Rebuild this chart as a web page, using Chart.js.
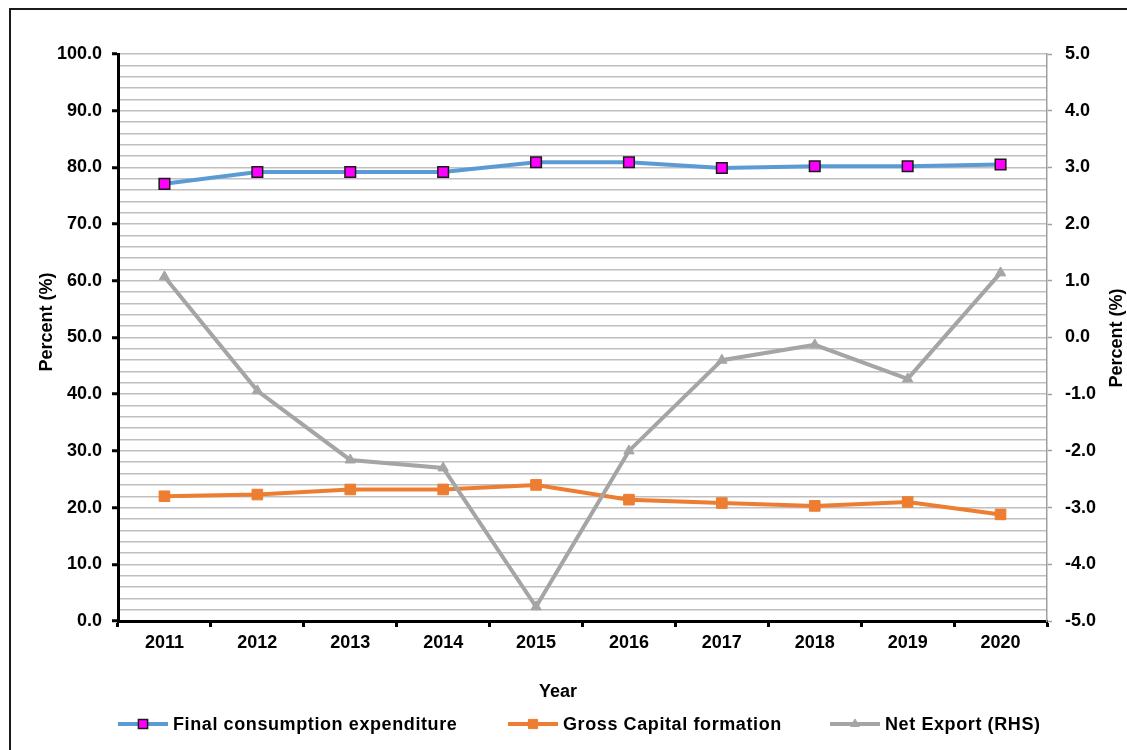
<!DOCTYPE html>
<html>
<head>
<meta charset="utf-8">
<script src="https://cdn.jsdelivr.net/npm/chart.js@4/dist/chart.umd.min.js"></script>
<style>
  html, body { margin: 0; padding: 0; background: #fff; overflow: hidden; }
  #wrap { position: relative; width: 1127px; height: 750px; }
</style>
</head>
<body>
<div id="wrap"><canvas id="lineChart" width="1127" height="750"></canvas></div>
<script>
var years = ["2011", "2012", "2013", "2014", "2015", "2016", "2017", "2018", "2019", "2020"];
var finalConsumption = [77.1, 79.2, 79.2, 79.2, 80.9, 80.9, 79.9, 80.2, 80.2, 80.5];
var grossCapital = [22.0, 22.3, 23.2, 23.2, 24.0, 21.4, 20.8, 20.3, 21.0, 18.8];
var netExport = [1.07, -0.94, -2.16, -2.30, -4.75, -2.00, -0.40, -0.13, -0.73, 1.14];
var seriesNames = ["Final consumption expenditure", "Gross Capital formation", "Net Export (RHS)"];
var leftTitle = "Percent (%)";
var rightTitle = "Percent (%)";
var xTitle = "Year";

var FONT = "'Liberation Sans', Arial, sans-serif";
var BLUE = '#5b9bd5', ORANGE = '#ed7d31', GREY = '#a5a5a5';

// titles, legend and outer frame drawn by hand (Excel style)
var extras = {
    id: 'extras',
    afterDraw: function (chart) {
        var c = chart.ctx;
        c.save();
        c.strokeStyle = '#1a1a1a';
        c.lineWidth = 2;
        c.strokeRect(10, 9, 1200, 800);

        c.fillStyle = '#000';
        c.font = 'bold 18px ' + FONT;
        c.textAlign = 'center';
        c.textBaseline = 'middle';
        c.fillText(xTitle, 558, 692);

        c.save();
        c.translate(47, 322);
        c.rotate(-Math.PI / 2);
        c.fillText(leftTitle, 0, 0);
        c.restore();
        c.save();
        c.translate(1117, 338);
        c.rotate(-Math.PI / 2);
        c.fillText(rightTitle, 0, 0);
        c.restore();

        // legend
        var starts = [118, 508, 830];
        var ly = 724;
        chart.data.datasets.forEach(function (ds, i) {
            var x0 = starts[i];
            c.strokeStyle = ds.borderColor;
            c.lineWidth = 4;
            c.beginPath();
            c.moveTo(x0, ly);
            c.lineTo(x0 + 50, ly);
            c.stroke();
            c.fillStyle = ds.pointBackgroundColor;
            c.strokeStyle = ds.pointBorderColor;
            c.lineWidth = ds.pointBorderWidth;
            Chart.helpers.drawPoint(c, {
                pointStyle: ds.pointStyle,
                radius: ds.pointRadius - 1,
                borderWidth: ds.pointBorderWidth
            }, x0 + 25, ly);
            c.fillStyle = '#000';
            c.textAlign = 'left';
            c.letterSpacing = '0.6px';
            c.fillText(ds.label, x0 + 55, ly + 1);
            c.letterSpacing = '0px';
        });
        c.restore();
    }
};

document.addEventListener("DOMContentLoaded", function () {
    var ctx = document.getElementById("lineChart").getContext("2d");
    Chart.defaults.font.family = FONT;

    var chart = new Chart(ctx, {
        type: 'line',
        data: {
            labels: years,
            datasets: [{
                label: seriesNames[0],
                data: finalConsumption,
                yAxisID: 'y',
                borderColor: BLUE,
                borderWidth: 4,
                pointStyle: 'rect',
                pointRadius: 7.5,
                pointBackgroundColor: '#ff00ff',
                pointBorderColor: '#1a1a1a',
                pointBorderWidth: 1.5,
                tension: 0,
                order: 3
            }, {
                label: seriesNames[1],
                data: grossCapital,
                yAxisID: 'y',
                borderColor: ORANGE,
                borderWidth: 4,
                pointStyle: 'rect',
                pointRadius: 7.5,
                pointBackgroundColor: ORANGE,
                pointBorderColor: ORANGE,
                pointBorderWidth: 1,
                tension: 0,
                order: 2
            }, {
                label: seriesNames[2],
                data: netExport,
                yAxisID: 'y1',
                borderColor: GREY,
                borderWidth: 4,
                pointStyle: 'triangle',
                pointRadius: 6,
                pointBackgroundColor: GREY,
                pointBorderColor: GREY,
                pointBorderWidth: 1,
                tension: 0,
                order: 1
            }]
        },
        options: {
            responsive: false,
            animation: false,
            layout: { padding: { top: 54, left: 0, right: 0, bottom: 0 } },
            plugins: {
                legend: { display: false },
                tooltip: { enabled: false }
            },
            scales: {
                x: {
                    offset: true,
                    afterFit: function (s) { s.height = 129; },
                    grid: {
                        offset: true,
                        drawOnChartArea: false,
                        tickColor: '#000',
                        tickWidth: 3,
                        tickLength: 6
                    },
                    border: { color: '#000', width: 3 },
                    ticks: {
                        color: '#000',
                        font: { size: 18, weight: 'bold' },
                        padding: 5,
                        maxRotation: 0
                    }
                },
                y: {
                    position: 'left',
                    min: 0,
                    max: 100,
                    afterFit: function (s) { s.width = 118; },
                    afterBuildTicks: function (s) {
                        s.ticks = [];
                        for (var v = 0; v <= 100; v += 2) s.ticks.push({ value: v });
                    },
                    grid: {
                        color: '#bfbfbf',
                        lineWidth: 1.5,
                        tickLength: 6,
                        tickWidth: 3,
                        tickColor: function (c) {
                            return c.tick && c.tick.value % 10 === 0 ? '#000' : 'rgba(0,0,0,0)';
                        }
                    },
                    border: { color: '#000', width: 3 },
                    ticks: {
                        color: '#000',
                        font: { size: 18, weight: 'bold' },
                        padding: 10,
                        autoSkip: false,
                        callback: function (v) { return v % 10 === 0 ? v.toFixed(1) : ''; }
                    }
                },
                y1: {
                    position: 'right',
                    min: -5,
                    max: 5,
                    afterFit: function (s) { s.width = 80; },
                    grid: {
                        drawOnChartArea: false,
                        tickLength: 5,
                        tickWidth: 1.5,
                        tickColor: '#a0a0a0'
                    },
                    border: { color: '#a0a0a0', width: 1.5 },
                    ticks: {
                        stepSize: 1,
                        color: '#000',
                        font: { size: 18, weight: 'bold' },
                        padding: 13,
                        callback: function (v) { return v.toFixed(1); }
                    }
                }
            }
        },
        plugins: [extras]
    });
});
</script>
</body>
</html>
